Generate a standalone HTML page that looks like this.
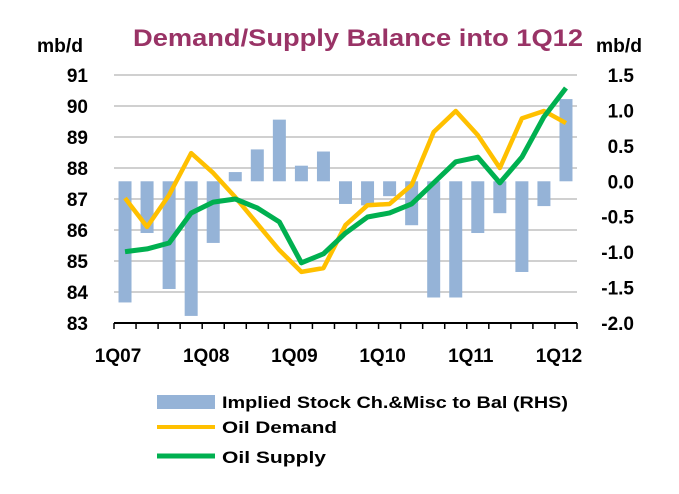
<!DOCTYPE html>
<html><head><meta charset="utf-8"><style>
body{margin:0;background:#fff;font-family:"Liberation Sans",Arial,sans-serif;}
svg text{font-family:"Liberation Sans",Arial,sans-serif;font-weight:bold;}
</style></head><body>
<svg id="chart" width="679" height="489" viewBox="0 0 679 489" xmlns="http://www.w3.org/2000/svg">
<text x="133" y="46" font-size="24" fill="#993366" textLength="450" lengthAdjust="spacingAndGlyphs">Demand/Supply Balance into  1Q12</text>
<text x="37" y="52" font-size="19" fill="#000" textLength="46" lengthAdjust="spacingAndGlyphs">mb/d</text>
<text x="596" y="52" font-size="19" fill="#000" textLength="46" lengthAdjust="spacingAndGlyphs">mb/d</text>
<g id="grid"></g><g id="bars"></g><g id="lines"></g><g id="axes"></g>
<g>
<rect x="157" y="395" width="58" height="14" fill="#95b3d7"/>
<text x="222" y="408" font-size="17" textLength="346" lengthAdjust="spacingAndGlyphs">Implied Stock Ch.&amp;Misc to Bal (RHS)</text>
<line x1="157" y1="427" x2="215" y2="427" stroke="#ffc000" stroke-width="4"/>
<text x="222" y="433" font-size="17" textLength="115" lengthAdjust="spacingAndGlyphs">Oil Demand</text>
<line x1="157" y1="456" x2="215" y2="456" stroke="#00b050" stroke-width="5"/>
<text x="222" y="463" font-size="17" textLength="104" lengthAdjust="spacingAndGlyphs">Oil Supply</text>
</g>
</svg>
<script>
const xLabels = ["1Q07","1Q08","1Q09","1Q10","1Q11","1Q12"];
const leftTicks = [83,84,85,86,87,88,89,90,91];
const rightTicks = [-2.0,-1.5,-1.0,-0.5,0.0,0.5,1.0,1.5];
const stockChange = [-1.71,-0.73,-1.52,-1.9,-0.87,0.13,0.45,0.87,0.22,0.42,-0.32,-0.34,-0.21,-0.62,-1.64,-1.64,-0.73,-0.45,-1.28,-0.35,1.16];
const demand = [87.03,86.1,87.13,88.48,87.84,87.06,86.2,85.35,84.65,84.77,86.16,86.8,86.84,87.45,89.16,89.84,89.06,88.0,89.6,89.84,89.45];
const supply = [85.3,85.39,85.58,86.55,86.9,87.0,86.71,86.26,84.94,85.23,85.9,86.42,86.55,86.84,87.52,88.2,88.35,87.52,88.35,89.65,90.58];

const NS="http://www.w3.org/2000/svg";
const x0=114, x1=577, yTop=75, yBot=323;
const n=stockChange.length, band=(x1-x0)/n;
const xc=i=>x0+band*(i+0.5);
const yL=v=>yBot-(v-83)/(91-83)*(yBot-yTop);
const yR=v=>yBot-(v+2)/(3.5)*(yBot-yTop);
function mk(tag,attrs,parent){const e=document.createElementNS(NS,tag);for(const k in attrs)e.setAttribute(k,attrs[k]);document.getElementById(parent).appendChild(e);return e;}

leftTicks.forEach(v=>{
  if(v>83){const g=mk('line',{x1:x0,x2:x1,y1:yL(v),y2:yL(v),stroke:'#c0c0c0','stroke-width':1.5},'grid');
  
  }
  const t=mk('text',{x:88,y:yL(v)+7,'text-anchor':'end','font-size':19},'axes');t.textContent=v;
  
  
});
rightTicks.forEach(v=>{
  const t=mk('text',{x:634,y:yR(v)+7,'text-anchor':'end','font-size':19},'axes');t.textContent=v.toFixed(1);
  
  
});
stockChange.forEach((v,i)=>{
  const y=Math.min(yR(v),yR(0)),h=Math.abs(yR(v)-yR(0));
  const r=mk('rect',{x:xc(i)-6.5,y:y,width:13,height:h,fill:'#95b3d7'},'bars');
  
  
});
function line(data,color,w,name){
  const p=mk('polyline',{points:data.map((v,i)=>xc(i)+','+yL(v)).join(' '),fill:'none',stroke:color,'stroke-width':w,'stroke-linejoin':'round'},'lines');
  
  
}
line(demand,'#ffc000',4.5,'demand-line');
line(supply,'#00b050',5,'supply-line');
const ax=mk('line',{x1:x0,x2:x1,y1:yBot,y2:yBot,stroke:'#000','stroke-width':2},'axes');


for(let i=0;i<=n;i++){
  const t=mk('line',{x1:x0+band*i,x2:x0+band*i,y1:yBot,y2:yBot+6,stroke:'#000','stroke-width':1.5},'axes');
  
  
}
xLabels.forEach((l,k)=>{
  const t=mk('text',{x:xc(k*4)-7,y:362,'text-anchor':'middle','font-size':19},'axes');t.textContent=l;
  
  
});
</script>
</body></html>
